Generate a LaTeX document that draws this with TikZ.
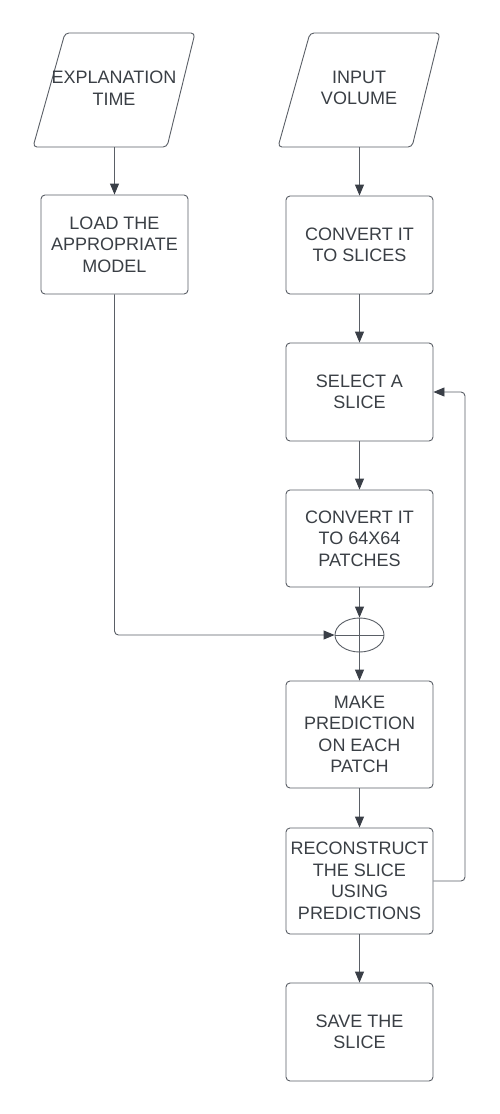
\documentclass[tikz,border=0pt]{standalone}
\usepackage{fontspec}
\setmainfont{Liberation Sans}
\usetikzlibrary{shapes.geometric,arrows.meta}
\definecolor{txt}{HTML}{3A3F45}
\definecolor{ln}{HTML}{5A5F66}
\definecolor{tip}{HTML}{3A3F47}
\tikzset{
  lbl/.style={text=txt,font=\fontsize{18}{21.5}\selectfont,align=center},
  boxnode/.style={lbl,draw=ln,line width=0.9pt,rounded corners=4pt,minimum width=147pt,inner sep=0pt},
  ionode/.style={lbl,minimum width=120pt,minimum height=114pt,inner sep=0pt},
  conn/.style={draw=ln,line width=0.9pt,-{Triangle[length=11pt,width=9pt,fill=tip,color=tip]}},
  plain/.style={draw=ln,line width=0.9pt,rounded corners=4pt}
}
\begin{document}
\begin{tikzpicture}[x=1pt,y=-1pt]
\useasboundingbox (0,0) rectangle (499,1114);
\fill[white] (0,0) rectangle (499,1114);
\draw[plain] (33,147) -- (65,33) -- (195,33) -- (167,147) -- cycle;
\draw[plain] (278,147) -- (310,33) -- (440,33) -- (412,147) -- cycle;
\node[ionode] (expl) at (114,88) {EXPLANATION\\TIME};
\node[ionode] (input) at (359,88) {INPUT\\VOLUME};
\coordinate (explb) at (114.5,147);
\coordinate (inputb) at (359.5,147);
\node[boxnode,minimum height=99pt] (load) at (114.5,244.5) {LOAD THE\\APPROPRIATE\\MODEL};
\node[boxnode,minimum height=98pt] (conv) at (359.5,245) {CONVERT IT\\TO SLICES};
\node[boxnode,minimum height=98pt] (sel) at (359.5,392) {SELECT A\\SLICE};
\node[boxnode,minimum height=97pt] (c64) at (359.5,538.5) {CONVERT IT\\TO 64X64\\PATCHES};
\node[draw=ln,line width=0.9pt,ellipse,minimum width=49pt,minimum height=34pt,inner sep=0pt] (plus) at (359.5,635) {};
\draw[ln,line width=0.9pt] (plus.west) -- (plus.east) (plus.north) -- (plus.south);
\node[boxnode,minimum height=107pt] (make) at (359.5,734.5) {MAKE\\PREDICTION\\ON EACH\\PATCH};
\node[boxnode,minimum height=106pt] (rec) at (359.5,881) {RECONSTRUCT\\THE SLICE\\USING\\PREDICTIONS};
\node[boxnode,minimum height=98pt] (save) at (359.5,1032) {SAVE THE\\SLICE};
\coordinate (corner) at (465,392);
\draw[conn] (explb) -- (load.north);
\draw[conn] (inputb) -- (conv.north);
\draw[conn] (conv.south) -- (sel.north);
\draw[conn] (sel.south) -- (c64.north);
\draw[conn] (c64.south) -- (plus.north);
\draw[conn] (plus.south) -- (make.north);
\draw[conn] (make.south) -- (rec.north);
\draw[conn] (rec.south) -- (save.north);
\draw[conn,rounded corners=4pt] (load.south) |- (plus.west);
\draw[conn,rounded corners=4pt] (rec.east) -| (corner) -- (sel.east);
\end{tikzpicture}
\end{document}
